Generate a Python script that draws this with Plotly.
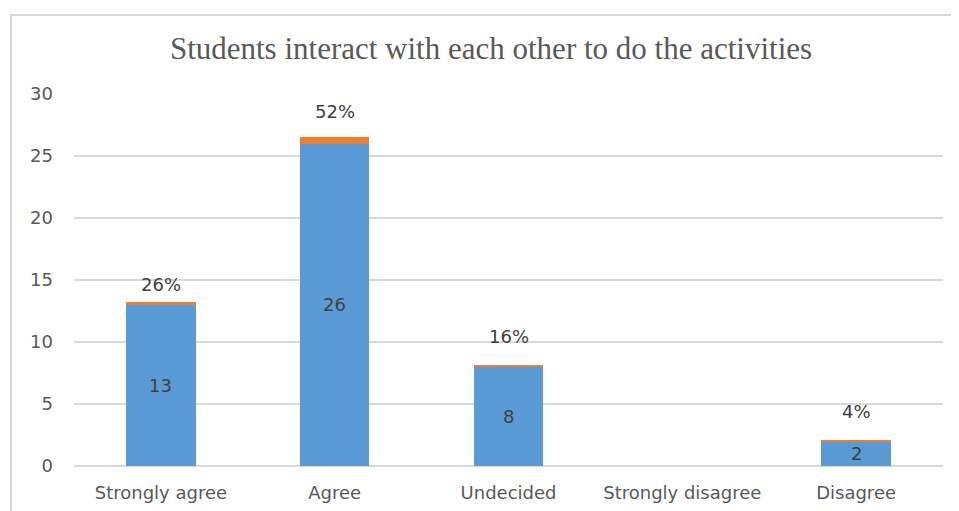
import plotly.graph_objects as go

categories = ["Strongly agree", "Agree", "Undecided", "Strongly disagree", "Disagree"]
counts = [13, 26, 8, 0, 2]
percents = [0.26, 0.52, 0.16, 0.0, 0.04]
percent_labels = ["26%", "52%", "16%", "", "4%"]
count_labels = ["13", "26", "8", "", "2"]

# label offsets above bar tops (pixels), styling only
label_shift = [17, 26, 28, 28, 29]

blue = "#5B9BD5"
orange = "#ED7D31"
txt = "#595959"
lbl = "#404040"
font_family = "'DejaVu Sans', sans-serif"
fs = 18

fig = go.Figure()
fig.add_trace(go.Bar(
    x=categories, y=counts, marker=dict(color=blue, line=dict(width=0)),
    showlegend=False, hoverinfo="x+y",
))
fig.add_trace(go.Bar(
    x=categories, y=percents, marker=dict(color=orange, line=dict(width=0)),
    showlegend=False, hoverinfo="x+y",
))

for c, n, p, lab, clab, sh in zip(categories, counts, percents, percent_labels, count_labels, label_shift):
    if lab:
        fig.add_annotation(x=c, y=n + p, text=lab, showarrow=False,
                           yanchor="middle", yshift=sh,
                           font=dict(color=lbl, size=fs, family=font_family))
    if clab:
        fig.add_annotation(x=c, y=n / 2, text=clab, showarrow=False,
                           yanchor="middle",
                           font=dict(color=lbl, size=fs, family=font_family))

# page has an 8px body margin, so figure is placed at (8, 8)
W, H = 951, 503
L, T = 66, 86
plot_right, plot_bottom = 935, 458
R, B = W - plot_right, H - plot_bottom
pw, ph = plot_right - L, plot_bottom - T
fig.add_shape(type="rect", xref="paper", yref="paper",
              x0=(3 - L) / pw, x1=(W + 10 - L) / pw,
              y0=-(B + 10) / ph, y1=(plot_bottom - 7) / ph,
              line=dict(color="#d9d9d9", width=2), fillcolor="rgba(0,0,0,0)", layer="below")

fig.update_layout(
    width=W, height=H,
    margin=dict(l=L, r=R, t=T, b=B, autoexpand=False),
    barmode="stack", bargap=0.6,
    plot_bgcolor="white", paper_bgcolor="white",
    title=dict(text="Students interact with each other to do the activities",
               x=(483 / W), xanchor="center", y=1 - 40 / H, yanchor="middle",
               font=dict(family="'Liberation Serif', 'Times New Roman', serif", size=31, color=txt)),
    font=dict(family=font_family, color=txt, size=fs),
)
fig.update_yaxes(range=[0, 30], dtick=5, showgrid=True, gridcolor="#d9d9d9", gridwidth=1.5,
                 zeroline=True, zerolinecolor="#d9d9d9", zerolinewidth=1.5,
                 showline=False, ticks="", ticklabelstandoff=20, automargin=False,
                 tickfont=dict(size=fs, color=txt, family=font_family))
fig.update_xaxes(showgrid=False, showline=False, ticks="", ticklabelstandoff=14, automargin=False,
                 tickfont=dict(size=fs, color=txt, family=font_family))

fig.write_html("out.html")
